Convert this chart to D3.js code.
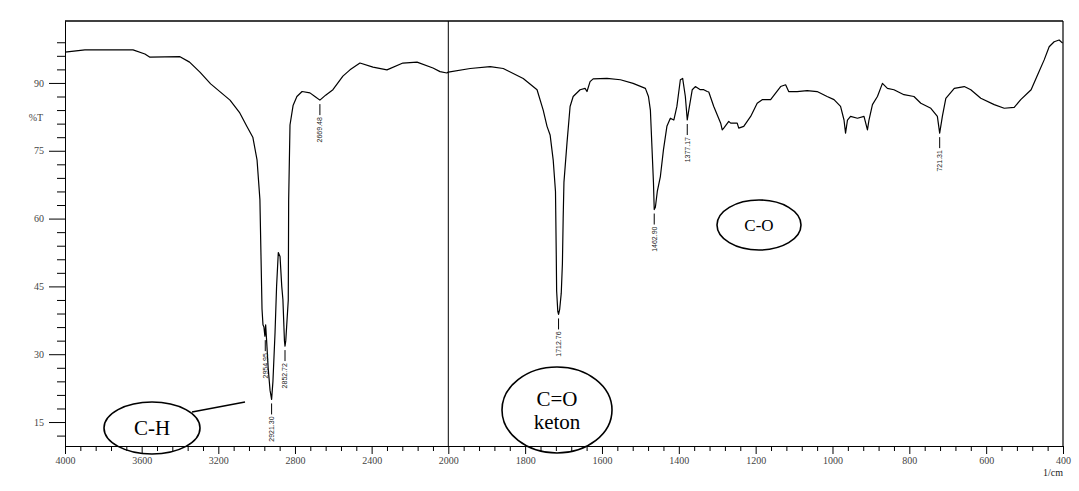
<!DOCTYPE html>
<html>
<head>
<meta charset="utf-8">
<script src="https://cdn.jsdelivr.net/npm/d3@7"></script>
<style>
  body { margin: 0; background: #fff; }
  svg { display: block; }
  .axis text { font-family: "Liberation Serif", serif; font-size: 10px; fill: #444; }
  .axis path, .axis line { stroke: #000; }
  .note { font-family: "Liberation Serif", serif; fill: #000; }
  .peak { font-family: "Liberation Sans", sans-serif; font-size: 7px; fill: #222; }
</style>
</head>
<body>
<div id="chart"></div>
<script>
// spectrum: wavenumber (1/cm) and %T
var wavenumber = [
  4000, 3896, 3645, 3583, 3557, 3400, 3350, 3296, 3240, 3139, 3090, 3050, 3020, 2998, 2983,
  2977, 2972, 2967, 2962, 2957, 2953, 2948, 2940, 2930, 2922, 2915, 2904, 2896, 2887, 2878,
  2869, 2863, 2855, 2852, 2848, 2835, 2833, 2826, 2810, 2790, 2763, 2722, 2696, 2670, 2640,
  2602, 2550, 2513, 2461, 2393, 2320, 2237, 2163, 2080, 2043, 2007, 2000,
  1943, 1891, 1857, 1805, 1769, 1753, 1743, 1735, 1727, 1721, 1719, 1718, 1715, 1713, 1710,
  1706, 1703, 1701, 1699, 1691, 1683, 1675, 1657, 1644, 1639, 1631, 1623, 1587, 1552, 1519,
  1487, 1479, 1474, 1470, 1466, 1464, 1461, 1456, 1448, 1440, 1431, 1422, 1413, 1405, 1396,
  1390, 1383, 1378, 1374, 1365, 1357, 1344, 1335, 1326, 1322, 1309, 1291, 1287, 1283, 1270,
  1265, 1257, 1248, 1244, 1231, 1213, 1196, 1183, 1161, 1135, 1122, 1114, 1092, 1066, 1040,
  1014, 996, 979, 970, 966, 961, 953, 935, 918, 909, 905, 896, 883, 870, 857,
  840, 814, 788, 770, 744, 727, 721, 714, 705, 683, 657, 640, 614, 579, 553,
  527, 510, 483, 466, 449, 436, 423, 410, 401
];
var transmittance = [
  96.8, 97.3, 97.3, 96.4, 95.7, 95.8, 94.6, 92.4, 89.8, 86.2, 83.5, 80.3, 78.0, 73.0, 64.2,
  51.0, 40.0, 36.5, 36.0, 34.0, 36.5, 33.0, 27.0, 22.0, 20.0, 24.0, 34.8, 45.0, 52.5, 51.6,
  45.0, 42.1, 33.0, 31.8, 33.0, 42.0, 64.0, 80.7, 85.0, 87.0, 88.1, 87.8, 87.0, 86.2, 87.3,
  88.5, 91.5, 92.9, 94.4, 93.5, 92.9, 94.4, 94.6, 93.3, 92.5, 92.2, 92.4,
  93.2, 93.6, 93.2, 91.0, 88.5, 84.0, 80.4, 78.5, 73.0, 66.0, 52.0, 44.0, 39.5, 38.8, 40.0,
  43.5, 50.0, 60.0, 68.0, 76.8, 84.8, 87.0, 88.5, 88.8, 88.1, 90.3, 90.9, 91.0, 90.7, 89.9,
  88.8, 87.0, 84.0, 76.0, 68.0, 62.0, 62.5, 66.0, 69.3, 75.2, 80.4, 82.2, 81.8, 84.8, 90.7,
  91.0, 87.0, 81.8, 84.0, 88.5, 89.2, 88.5, 88.5, 88.1, 88.0, 84.8, 81.1, 79.6, 80.0, 81.5,
  81.1, 81.1, 81.1, 80.0, 80.4, 82.6, 85.5, 86.3, 86.3, 89.2, 89.6, 88.1, 88.1, 88.3, 88.1,
  87.0, 86.3, 84.8, 81.8, 78.9, 81.8, 82.6, 82.2, 82.6, 79.6, 81.8, 85.2, 87.0, 89.9, 88.8,
  88.5, 87.4, 87.0, 85.5, 84.4, 82.6, 78.9, 82.6, 86.6, 88.8, 89.2, 88.5, 86.6, 85.2, 84.4,
  84.6, 86.3, 88.5, 91.8, 95.1, 98.0, 99.1, 99.5, 98.8
];

// labelled peaks
var peakWn = [2955, 2922, 2852, 2670, 1713, 1464, 1378, 721];
var peakT = [34.0, 20.0, 31.8, 86.2, 38.8, 62.0, 81.8, 78.9];
var peakText = ["2954.95", "2921.30", "2852.72", "2669.48", "1712.76", "1462.90", "1377.17", "721.31"];

// axis ticks
var xMajor = [4000, 3600, 3200, 2800, 2400, 2000, 1800, 1600, 1400, 1200, 1000, 800, 600, 400];
var yMajor = [15, 30, 45, 60, 75, 90];

var width = 1079, height = 491;
var plotL = 65, plotR = 1063, plotT = 21, plotB = 446;

var svg = d3.select("#chart").append("svg")
  .attr("width", width)
  .attr("height", height);

// split scale: 4000-2000 compressed, 2000-400 expanded
var x = d3.scaleLinear().domain([4000, 2000, 400]).range([plotL, 448.3, plotR]);
var y = d3.scaleLinear().domain([9.7, 103.7]).range([plotB, plotT]);

var xMinor = d3.range(4000, 2000, -80).concat(d3.range(2000, 399, -40))
  .filter(function(v) { return xMajor.indexOf(v) < 0; });
var yMinor = d3.range(12, 100, 3).filter(function(v) { return yMajor.indexOf(v) < 0; });

// x axis
svg.append("g").attr("class", "axis")
  .attr("transform", "translate(0," + plotB + ")")
  .call(d3.axisBottom(x).tickValues(xMinor).tickSize(5).tickSizeOuter(0).tickFormat(""));
svg.append("g").attr("class", "axis")
  .attr("transform", "translate(0," + plotB + ")")
  .call(d3.axisBottom(x).tickValues(xMajor).tickSize(8).tickSizeOuter(0).tickFormat(d3.format("d")));

// y axis
svg.append("g").attr("class", "axis")
  .attr("transform", "translate(" + plotL + ",0)")
  .call(d3.axisLeft(y).tickValues(yMinor).tickSize(8).tickSizeOuter(0).tickFormat(""));
svg.append("g").attr("class", "axis")
  .attr("transform", "translate(" + plotL + ",0)")
  .call(d3.axisLeft(y).tickValues(yMajor).tickSize(16).tickPadding(5).tickSizeOuter(0));

// frame: top and right, plus the break line at 2000
svg.append("line").attr("x1", plotL).attr("x2", plotR).attr("y1", plotT).attr("y2", plotT)
  .attr("stroke", "#000").attr("stroke-width", 1.6);
svg.append("line").attr("x1", plotR).attr("x2", plotR).attr("y1", plotT).attr("y2", plotB)
  .attr("stroke", "#000").attr("stroke-width", 1.2);
svg.append("line").attr("x1", x(2000)).attr("x2", x(2000)).attr("y1", plotT).attr("y2", plotB)
  .attr("stroke", "#000").attr("stroke-width", 1);

svg.append("text")
  .attr("x", 36).attr("y", 121).attr("text-anchor", "middle")
  .style("font-family", "Liberation Serif, serif").style("font-size", "10px").style("fill", "#444")
  .text("%T");
svg.append("text")
  .attr("x", plotR).attr("y", 476).attr("text-anchor", "end")
  .style("font-family", "Liberation Serif, serif").style("font-size", "10px").style("fill", "#222")
  .text("1/cm");

// spectrum
var points = wavenumber.map(function(w, i) { return [w, transmittance[i]]; });
var line = d3.line()
  .x(function(d) { return x(d[0]); })
  .y(function(d) { return y(d[1]); });

svg.append("path")
  .datum(points)
  .attr("fill", "none")
  .attr("stroke", "#000")
  .attr("stroke-width", 1.2)
  .attr("stroke-linejoin", "round")
  .attr("d", line);

// peak markers
var peaks = peakWn.map(function(w, i) { return { wn: w, t: peakT[i], text: peakText[i] }; });
var pk = svg.selectAll(".pk").data(peaks).enter().append("g").attr("class", "pk");
pk.append("line")
  .attr("x1", function(d) { return x(d.wn); })
  .attr("x2", function(d) { return x(d.wn); })
  .attr("y1", function(d) { return y(d.t) + 4; })
  .attr("y2", function(d) { return y(d.t) + 15; })
  .attr("stroke", "#000").attr("stroke-width", 1);
pk.append("text")
  .attr("class", "peak")
  .attr("transform", function(d) { return "translate(" + x(d.wn) + "," + (y(d.t) + 17) + ") rotate(-90)"; })
  .attr("text-anchor", "end")
  .attr("dy", "0.35em")
  .text(function(d) { return d.text; });

// hand-drawn notes
function note(cx, cy, rx, ry, lines, size, lineGap) {
  svg.append("ellipse").attr("cx", cx).attr("cy", cy).attr("rx", rx).attr("ry", ry)
    .attr("fill", "none").attr("stroke", "#000").attr("stroke-width", 1.6);
  var t = svg.append("text").attr("class", "note")
    .attr("text-anchor", "middle").style("font-size", size + "px");
  lines.forEach(function(s, i) {
    t.append("tspan").attr("x", cx)
      .attr("y", cy + size * 0.35 + (i - (lines.length - 1) / 2) * lineGap)
      .text(s);
  });
}

note(152, 428, 48, 26, ["C-H"], 21, 0);
svg.append("line").attr("x1", 192).attr("y1", 412).attr("x2", 245).attr("y2", 402)
  .attr("stroke", "#000").attr("stroke-width", 1.3);
note(557, 410, 55, 43, ["C=O", "keton"], 21, 23);
note(759, 225, 42, 25, ["C-O"], 17, 0);
</script>
</body>
</html>
